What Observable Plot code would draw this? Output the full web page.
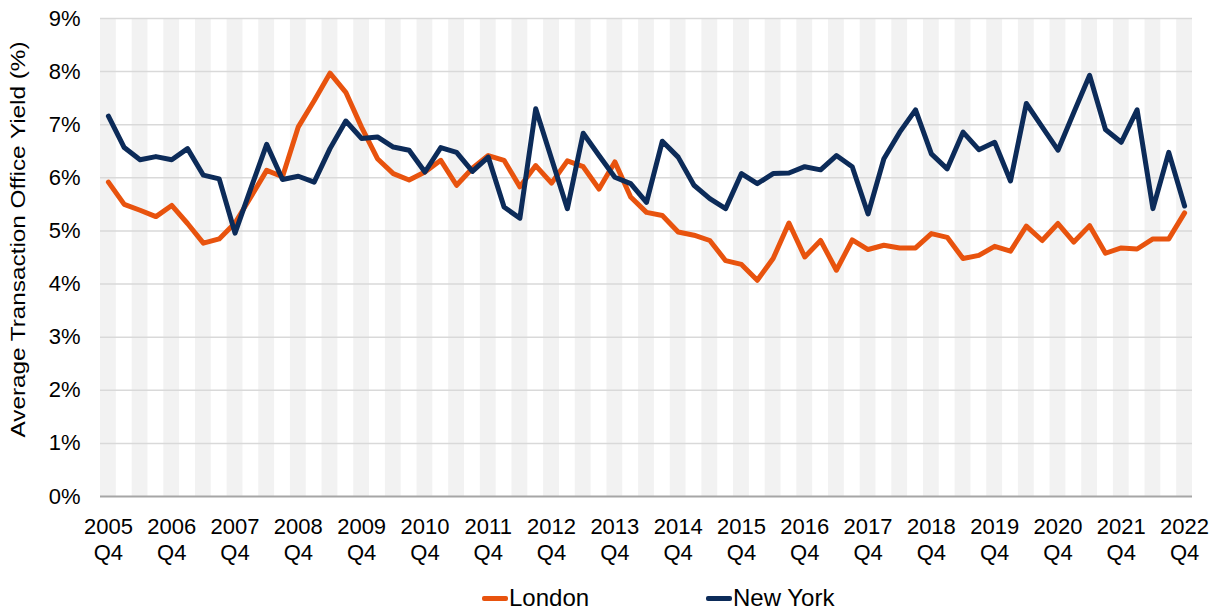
<!DOCTYPE html>
<html><head><meta charset="utf-8">
<script src="https://cdn.jsdelivr.net/npm/d3@7"></script>
<script src="https://cdn.jsdelivr.net/npm/@observablehq/plot@0.6"></script>
<style>
body{margin:0;background:#fff;font-family:Arial,"Liberation Sans",sans-serif;}
#chart{position:relative;width:1218px;height:614px;overflow:hidden;}
#legend{position:absolute;left:0;top:582px;width:1218px;height:32px;font-size:24px;color:#000;}
.item{position:absolute;top:0;height:32px;display:flex;align-items:center;}
.sw{display:inline-block;width:26px;height:5px;border-radius:2px;margin-right:1px;}
</style></head><body><div id="chart"></div>
<script>
// Tick labels
const years = ["2005","2006","2007","2008","2009","2010","2011","2012","2013","2014","2015","2016","2017","2018","2019","2020","2021","2022"];
const quarterLabel = "Q4";
const yTicks = [0,1,2,3,4,5,6,7,8,9];
const series = ["London","New York"];
const colors = ["#e8530e","#0c2b59"];
const yTitle = "Average Transaction Office Yield (%)";

// Quarterly values, 2005 Q4 .. 2022 Q4 (%)
const london = [5.92,5.50,5.39,5.27,5.48,5.14,4.77,4.85,5.15,5.64,6.14,6.02,6.96,7.45,7.97,7.61,6.95,6.36,6.08,5.96,6.11,6.33,5.86,6.18,6.42,6.33,5.83,6.23,5.90,6.32,6.21,5.79,6.30,5.64,5.35,5.29,4.98,4.92,4.82,4.44,4.37,4.07,4.48,5.15,4.51,4.82,4.26,4.83,4.65,4.73,4.68,4.68,4.95,4.88,4.48,4.54,4.71,4.62,5.09,4.82,5.14,4.79,5.10,4.58,4.68,4.66,4.85,4.85,5.34];
const newYork = [7.16,6.57,6.34,6.40,6.34,6.55,6.05,5.98,4.96,5.80,6.63,5.97,6.03,5.92,6.55,7.07,6.74,6.77,6.58,6.52,6.11,6.57,6.48,6.12,6.39,5.45,5.24,7.30,6.36,5.42,6.84,6.42,6.01,5.89,5.54,6.69,6.39,5.86,5.61,5.42,6.08,5.89,6.08,6.09,6.21,6.15,6.42,6.21,5.32,6.36,6.86,7.28,6.45,6.17,6.86,6.53,6.67,5.94,7.40,6.96,6.52,7.23,7.93,6.91,6.67,7.28,5.42,6.48,5.47];

const n = london.length;
const idx = d3.range(n);
const rows = [
  ...london.map((v,i)=>({i, city:series[0], v})),
  ...newYork.map((v,i)=>({i, city:series[1], v}))
];
const stripes = idx.filter(i => i % 2 === 0);
const xTicks = idx.filter(i => i % 4 === 0);

const font = "Arial, 'Liberation Sans', sans-serif";
const plot = Plot.plot({
  width: 1218, height: 582,
  marginLeft: 100, marginRight: 26, marginTop: 18, marginBottom: 86,
  style: {fontFamily: font, fontSize: "22px", color: "#000", background: "#fff", overflow: "visible"},
  x: {domain: [-0.5, n - 0.5], axis: null},
  y: {domain: [0, 9], axis: null},
  color: {domain: series, range: colors},
  marks: [
    Plot.rect(stripes, {x1: d => d - 0.5, x2: d => d + 0.5, y1: 0, y2: 9, fill: "#f2f2f2"}),
    Plot.ruleY(yTicks.filter(d => d > 0), {stroke: "#d9d9d9", strokeWidth: 1.5}),
    Plot.ruleY([0], {stroke: "#a6a6a6", strokeWidth: 2}),
    Plot.axisY(yTicks, {tickSize: 0, tickPadding: 20, tickFormat: d => d + "%", fontSize: 22, label: null}),
    Plot.axisX(xTicks, {tickSize: 0, tickPadding: 19, tickFormat: i => years[i / 4] + "\n" + quarterLabel, fontSize: 22, lineHeight: 1.18, label: null}),
    Plot.text([yTitle], {frameAnchor: "left", textAnchor: "middle", rotate: -90, dx: -82, dy: -18, fontSize: 20, fill: "#000"}),
    Plot.line(rows, {x: "i", y: "v", z: "city", stroke: "city", strokeWidth: 5, strokeLinejoin: "round", strokeLinecap: "round"})
  ]
});
const chart = document.getElementById("chart");
chart.appendChild(plot);
// stretch the axis title to the reference length
plot.querySelectorAll("text").forEach(t => {
  if (t.textContent === yTitle) {
    t.setAttribute("textLength", 396);
    t.setAttribute("lengthAdjust", "spacingAndGlyphs");
  }
});

const legend = document.createElement("div");
legend.id = "legend";
const lefts = [482, 706];
series.forEach((s, k) => {
  const it = document.createElement("div");
  it.className = "item";
  it.style.left = lefts[k] + "px";
  it.innerHTML = `<span class="sw" style="background:${colors[k]}"></span><span>${s}</span>`;
  legend.appendChild(it);
});
chart.appendChild(legend);
</script></body></html>
